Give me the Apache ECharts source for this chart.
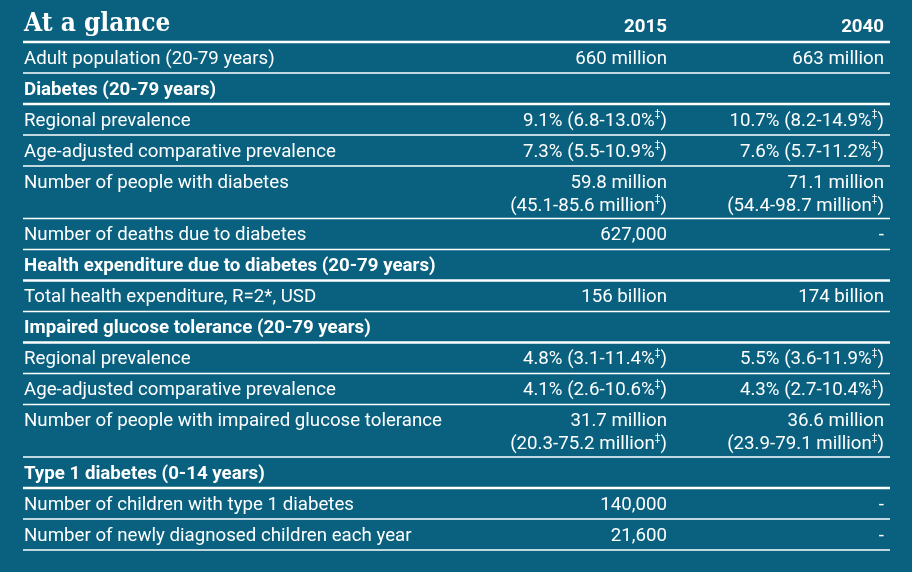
<!DOCTYPE html>
<html>
<head>
<meta charset="utf-8">
<script src="https://cdn.jsdelivr.net/npm/echarts@6/dist/echarts.min.js"></script>
<style>
  html, body { margin: 0; padding: 0; background: #09617f; }
  #chart { width: 912px; height: 572px; }
</style>
</head>
<body>
<div id="chart"></div>
<script>
// ---- Data ----
const title = 'At a glance';
const yearLabels = ['2015', '2040'];
const rowLabels = [
  'Adult population (20-79 years)',
  'Diabetes (20-79 years)',
  'Regional prevalence',
  'Age-adjusted comparative prevalence',
  'Number of people with diabetes',
  'Number of deaths due to diabetes',
  'Health expenditure due to diabetes (20-79 years)',
  'Total health expenditure, R=2*, USD',
  'Impaired glucose tolerance (20-79 years)',
  'Regional prevalence',
  'Age-adjusted comparative prevalence',
  'Number of people with impaired glucose tolerance',
  'Type 1 diabetes (0-14 years)',
  'Number of children with type 1 diabetes',
  'Number of newly diagnosed children each year'
];
const rowKinds = [
  'item', 'section', 'item', 'item', 'item', 'item', 'section', 'item',
  'section', 'item', 'item', 'item', 'section', 'item', 'item'
];
const values2015 = [
  '660 million', '', '9.1% (6.8-13.0%‡)', '7.3% (5.5-10.9%‡)',
  '59.8 million\n(45.1-85.6 million‡)', '627,000', '', '156 billion', '',
  '4.8% (3.1-11.4%‡)', '4.1% (2.6-10.6%‡)', '31.7 million\n(20.3-75.2 million‡)',
  '', '140,000', '21,600'
];
const values2040 = [
  '663 million', '', '10.7% (8.2-14.9%‡)', '7.6% (5.7-11.2%‡)',
  '71.1 million\n(54.4-98.7 million‡)', '-', '', '174 billion', '',
  '5.5% (3.6-11.9%‡)', '4.3% (2.7-10.4%‡)', '36.6 million\n(23.9-79.1 million‡)',
  '', '-', '-'
];

// ---- Layout / style ----
const FONT = 'Roboto, "Noto Sans", sans-serif';
const FS = 18.7;
const LINE_H = 23;
const EXTRA_LINE_UNITS = 0.69;
const COL_2015 = 0.7428;
const COL_2040 = 0.9931;
const TEXT_COLOR = '#ffffff';

const rowUnits = rowLabels.map((_, i) => {
  const n = Math.max(
    rowLabels[i].split('\n').length,
    values2015[i].split('\n').length,
    values2040[i].split('\n').length
  );
  return 1 + (n - 1) * EXTRA_LINE_UNITS;
});
const rowTop = [];
let acc = 0;
rowUnits.forEach((u, i) => { rowTop.push(acc); acc += u; });
const totalUnits = acc;

function supify(s) {
  return s.replace(/‡/g, '{sup|‡}');
}

function textEl(str, x, y, align, bold) {
  return {
    type: 'text',
    style: {
      text: supify(str),
      x: x,
      y: y,
      align: align,
      verticalAlign: 'top',
      fill: TEXT_COLOR,
      fontFamily: FONT,
      fontSize: FS,
      fontWeight: bold ? 'bold' : 'normal',
      lineHeight: LINE_H,
      rich: {
        sup: { fontSize: 10, verticalAlign: 'top', lineHeight: 18, fill: TEXT_COLOR, fontFamily: FONT }
      }
    }
  };
}

function renderRow(params, api) {
  const i = api.value(0);
  const pTop = api.coord([0, rowTop[i]]);
  const pBot = api.coord([1, rowTop[i] + rowUnits[i]]);
  const x0 = pTop[0], x1 = pBot[0], w = x1 - x0;
  const section = rowKinds[i] === 'section';
  const ty = pTop[1] + 5.5;
  const children = [textEl(rowLabels[i], x0 + 1, ty, 'left', section)];
  if (!section) {
    children.push(textEl(values2015[i], x0 + w * COL_2015, ty, 'right', false));
    children.push(textEl(values2040[i], x0 + w * COL_2040, ty, 'right', false));
  }
  children.push({
    type: 'line',
    shape: { x1: x0, y1: pBot[1], x2: x1, y2: pBot[1] },
    style: { stroke: '#ffffff', lineWidth: section ? 2.5 : 1.5 }
  });
  return { type: 'group', children };
}

function renderHeader(params, api) {
  const p0 = api.coord([0, 0]);
  const p1 = api.coord([1, 0]);
  const x0 = p0[0], x1 = p1[0], w = x1 - x0, y = p0[1];
  const children = [
    {
      type: 'text',
      style: {
        text: title, x: x0 + 1, y: y - 18, align: 'left', verticalAlign: 'middle',
        fill: TEXT_COLOR, fontFamily: '"DejaVu Serif Condensed", "DejaVu Serif", serif',
        fontWeight: 'bold', fontSize: 26
      }
    }
  ];
  yearLabels.forEach((yl, k) => {
    children.push({
      type: 'text',
      style: {
        text: yl, x: x0 + w * (k === 0 ? COL_2015 : COL_2040), y: y - 15,
        align: 'right', verticalAlign: 'middle',
        fill: TEXT_COLOR, fontFamily: FONT, fontWeight: 'bold', fontSize: FS
      }
    });
  });
  children.push({
    type: 'line',
    shape: { x1: x0, y1: y, x2: x1, y2: y },
    style: { stroke: '#ffffff', lineWidth: 2.5 }
  });
  return { type: 'group', children };
}

const chart = echarts.init(document.getElementById('chart'), null, { renderer: 'canvas' });
chart.setOption({
  backgroundColor: '#09617f',
  animation: false,
  grid: { left: 23, right: 22, top: 42, bottom: 22 },
  xAxis: { type: 'value', min: 0, max: 1, show: false },
  yAxis: { type: 'value', min: 0, max: totalUnits, inverse: true, show: false },
  series: [
    {
      type: 'custom',
      renderItem: renderHeader,
      data: [[0]],
      silent: true
    },
    {
      type: 'custom',
      renderItem: renderRow,
      data: rowLabels.map((_, i) => [i]),
      silent: true
    }
  ]
});
</script>
</body>
</html>
